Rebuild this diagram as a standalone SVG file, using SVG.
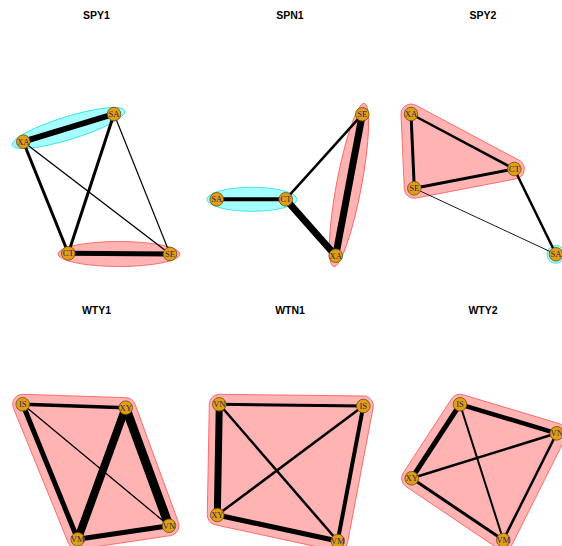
<svg xmlns="http://www.w3.org/2000/svg" width="562" height="546" viewBox="0 0 562 546">
<style>
.title{font-family:"Liberation Sans",Arial,sans-serif;font-weight:bold;font-size:10.5px;fill:#000;text-anchor:middle}
.pink{fill:#FFB3B3;stroke:#FF6060;stroke-width:0.9}
.cyan{fill:#A6FFFF;stroke:#40E0E0;stroke-width:0.9}
.e{stroke:#000;stroke-linecap:butt;fill:none}
.n circle{fill:#E39E0C;stroke:#6B4A10;stroke-width:0.8}
.n text{font-family:"Liberation Serif","Times New Roman",serif;font-size:8.5px;fill:#22227A;text-anchor:middle;dominant-baseline:central}
</style>
<rect width="562" height="546" fill="#fff"/>
<g id="titles">
<text class="title" x="96.5" y="19">SPY1</text>
<text class="title" x="290" y="19">SPN1</text>
<text class="title" x="483" y="19">SPY2</text>
<text class="title" x="96.5" y="314">WTY1</text>
<text class="title" x="290" y="314">WTN1</text>
<text class="title" x="483" y="314">WTY2</text>
</g>
<g id="groups">
<ellipse class="cyan" cx="68.5" cy="128" rx="59" ry="11.5" transform="rotate(-17.1 68.5 128)"/>
<ellipse class="pink" cx="119" cy="254" rx="61" ry="12.5"/>
<ellipse class="cyan" cx="252" cy="199.3" rx="45" ry="12"/>
<ellipse class="pink" cx="349" cy="185" rx="83" ry="12.5" transform="rotate(100.65 349 185)"/>
<path class="pink" d="M415.7,105.17 L519.0,160.17 A10,10 0 0 1 516.2,178.8 L416.2,198.1 A10 10 0 0 1 404.3,188.7 L401.0,114.4 A10 10 0 0 1 415.7,105.17 Z"/>
<circle class="cyan" cx="556" cy="254.3" r="9"/>
<path class="pink" d="M23.03,394.3 L126.03,397.7 A10,10 0 0 1 135.1,404.3 L178.4,522.3 A10 10 0 0 1 170.5,535.6 L79.2,549.2 A10 10 0 0 1 68.4,543.1 L13.4,408.1 A10 10 0 0 1 23.03,394.3 Z"/>
<path class="pink" d="M219.4,394.3 L363.4,396 A10 10 0 0 1 373.1,407.9 L347.5,542.9 A10 10 0 0 1 335.6,550.8 L215.2,524.8 A10 10 0 0 1 207.3,514.8 L209.3,404.1 A10 10 0 0 1 219.4,394.3 Z"/>
<path class="pink" d="M462.9,394.7 L559.6,423.7 A10 10 0 0 1 565.6,437.8 L512.2,544.5 A10 10 0 0 1 497.7,548.3 L406.1,486.6 A10 10 0 0 1 403.3,472.8 L451.6,398.8 A10 10 0 0 1 462.9,394.7 Z"/>
</g>
<g id="edges">
<line class="e" x1="23.3" y1="141.7" x2="114" y2="114" stroke-width="6"/>
<line class="e" x1="68.3" y1="253.3" x2="170" y2="254" stroke-width="5"/>
<line class="e" x1="23.3" y1="141.7" x2="68.3" y2="253.3" stroke-width="3"/>
<line class="e" x1="114" y1="114" x2="68.3" y2="253.3" stroke-width="3"/>
<line class="e" x1="23.3" y1="141.7" x2="170" y2="254" stroke-width="1.3"/>
<line class="e" x1="114" y1="114" x2="170" y2="254" stroke-width="1.2"/>
<line class="e" x1="216.7" y1="199.3" x2="285.7" y2="199.3" stroke-width="4"/>
<line class="e" x1="285.7" y1="199.3" x2="362.3" y2="114.3" stroke-width="2.5"/>
<line class="e" x1="285.7" y1="199.3" x2="335.7" y2="255.7" stroke-width="7"/>
<line class="e" x1="335.7" y1="255.7" x2="362.3" y2="114.3" stroke-width="7"/>
<line class="e" x1="411" y1="114" x2="514.3" y2="169" stroke-width="2.5"/>
<line class="e" x1="411" y1="114" x2="414.3" y2="188.3" stroke-width="3"/>
<line class="e" x1="414.3" y1="188.3" x2="514.3" y2="169" stroke-width="3"/>
<line class="e" x1="514.3" y1="169" x2="556" y2="254.3" stroke-width="2.5"/>
<line class="e" x1="414.3" y1="188.3" x2="556" y2="254.3" stroke-width="0.9" stroke="#999"/>
<line class="e" x1="22.7" y1="404.3" x2="125.7" y2="407.7" stroke-width="3.5"/>
<line class="e" x1="22.7" y1="404.3" x2="77.7" y2="539.3" stroke-width="5"/>
<line class="e" x1="22.7" y1="404.3" x2="169" y2="525.7" stroke-width="1.3"/>
<line class="e" x1="125.7" y1="407.7" x2="77.7" y2="539.3" stroke-width="8"/>
<line class="e" x1="125.7" y1="407.7" x2="169" y2="525.7" stroke-width="9"/>
<line class="e" x1="77.7" y1="539.3" x2="169" y2="525.7" stroke-width="5"/>
<line class="e" x1="219.3" y1="404.3" x2="363.3" y2="406" stroke-width="3"/>
<line class="e" x1="219.3" y1="404.3" x2="217.3" y2="515" stroke-width="7"/>
<line class="e" x1="217.3" y1="515" x2="337.7" y2="541" stroke-width="5"/>
<line class="e" x1="363.3" y1="406" x2="337.7" y2="541" stroke-width="4"/>
<line class="e" x1="219.3" y1="404.3" x2="337.7" y2="541" stroke-width="2.5"/>
<line class="e" x1="363.3" y1="406" x2="217.3" y2="515" stroke-width="2.5"/>
<line class="e" x1="460" y1="404.3" x2="556.7" y2="433.3" stroke-width="4.5"/>
<line class="e" x1="460" y1="404.3" x2="411.7" y2="478.3" stroke-width="5"/>
<line class="e" x1="460" y1="404.3" x2="503.3" y2="540" stroke-width="2"/>
<line class="e" x1="411.7" y1="478.3" x2="556.7" y2="433.3" stroke-width="2.5"/>
<line class="e" x1="411.7" y1="478.3" x2="503.3" y2="540" stroke-width="3"/>
<line class="e" x1="556.7" y1="433.3" x2="503.3" y2="540" stroke-width="2.5"/>
</g>
<g id="spy1-XA" class="n"><circle cx="23.3" cy="141.7" r="6.8"/><text x="23.3" y="141.7">XA</text></g>
<g id="spy1-SA" class="n"><circle cx="114" cy="114" r="6.8"/><text x="114" y="114">SA</text></g>
<g id="spy1-CT" class="n"><circle cx="68.3" cy="253.3" r="6.8"/><text x="68.3" y="253.3">CT</text></g>
<g id="spy1-SE" class="n"><circle cx="170" cy="254" r="6.8"/><text x="170" y="254">SE</text></g>
<g id="spn1-SE" class="n"><circle cx="362.3" cy="114.3" r="6.8"/><text x="362.3" y="114.3">SE</text></g>
<g id="spn1-SA" class="n"><circle cx="216.7" cy="199.3" r="6.8"/><text x="216.7" y="199.3">SA</text></g>
<g id="spn1-CT" class="n"><circle cx="285.7" cy="199.3" r="6.8"/><text x="285.7" y="199.3">CT</text></g>
<g id="spn1-XA" class="n"><circle cx="335.7" cy="255.7" r="6.8"/><text x="335.7" y="255.7">XA</text></g>
<g id="spy2-XA" class="n"><circle cx="411" cy="114" r="6.8"/><text x="411" y="114">XA</text></g>
<g id="spy2-CT" class="n"><circle cx="514.3" cy="169" r="6.8"/><text x="514.3" y="169">CT</text></g>
<g id="spy2-SE" class="n"><circle cx="414.3" cy="188.3" r="6.8"/><text x="414.3" y="188.3">SE</text></g>
<g id="spy2-SA" class="n"><circle cx="556" cy="254.3" r="6.8"/><text x="556" y="254.3">SA</text></g>
<g id="wty1-IS" class="n"><circle cx="22.7" cy="404.3" r="6.8"/><text x="22.7" y="404.3">IS</text></g>
<g id="wty1-XY" class="n"><circle cx="125.7" cy="407.7" r="6.8"/><text x="125.7" y="407.7">XY</text></g>
<g id="wty1-VN" class="n"><circle cx="169" cy="525.7" r="6.8"/><text x="169" y="525.7">VN</text></g>
<g id="wty1-VM" class="n"><circle cx="77.7" cy="539.3" r="6.8"/><text x="77.7" y="539.3">VM</text></g>
<g id="wtn1-VN" class="n"><circle cx="219.3" cy="404.3" r="6.8"/><text x="219.3" y="404.3">VN</text></g>
<g id="wtn1-IS" class="n"><circle cx="363.3" cy="406" r="6.8"/><text x="363.3" y="406">IS</text></g>
<g id="wtn1-XY" class="n"><circle cx="217.3" cy="515" r="6.8"/><text x="217.3" y="515">XY</text></g>
<g id="wtn1-VM" class="n"><circle cx="337.7" cy="541" r="6.8"/><text x="337.7" y="541">VM</text></g>
<g id="wty2-IS" class="n"><circle cx="460" cy="404.3" r="6.8"/><text x="460" y="404.3">IS</text></g>
<g id="wty2-VN" class="n"><circle cx="556.7" cy="433.3" r="6.8"/><text x="556.7" y="433.3">VN</text></g>
<g id="wty2-XY" class="n"><circle cx="411.7" cy="478.3" r="6.8"/><text x="411.7" y="478.3">XY</text></g>
<g id="wty2-VM" class="n"><circle cx="503.3" cy="540" r="6.8"/><text x="503.3" y="540">VM</text></g>
</svg>
